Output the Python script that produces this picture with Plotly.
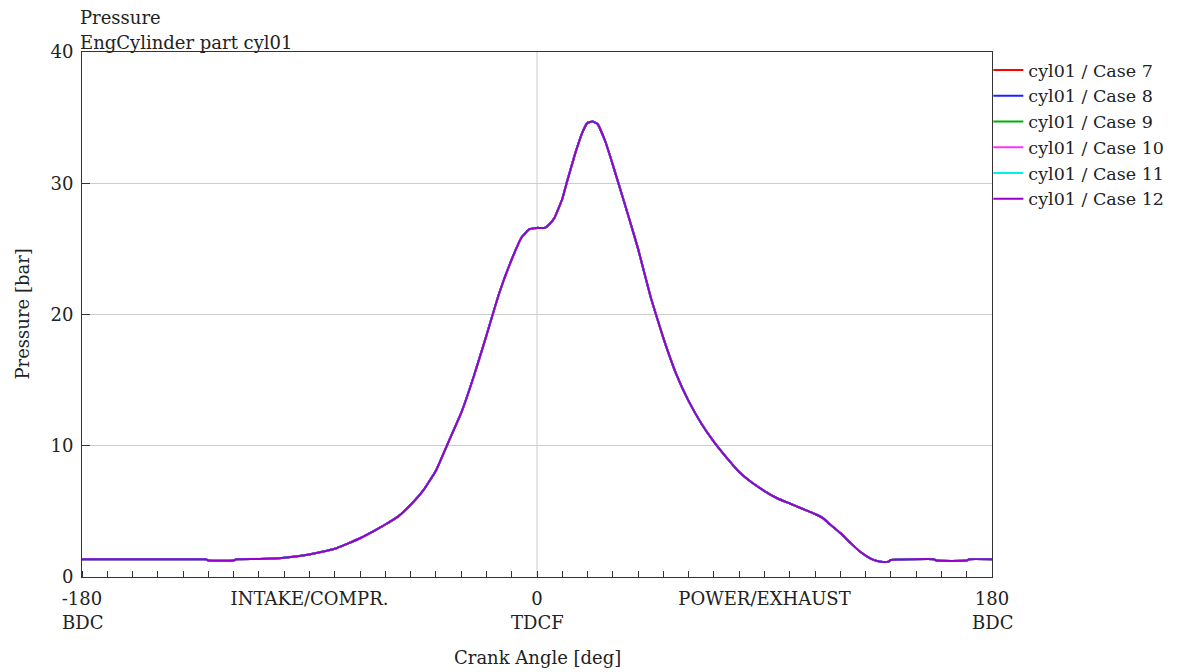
import plotly.graph_objects as go

crank_angle_deg = [-180, -160, -140, -131, -130, -120, -119, -110, -100, -90, -80, -70, -65, -60,
                   -55, -50, -45, -40, -35, -30, -25, -20, -15, -10, -6, -3, 0, 3, 5, 7, 10, 12,
                   15, 18, 20, 22, 24, 27, 30, 33, 36, 40, 45, 50, 55, 60, 65, 70, 75, 80, 85,
                   90, 95, 100, 105, 110, 113, 116, 120, 124, 128, 132, 135, 137, 139, 140, 148,
                   157, 158, 170, 171, 180]
pressure_bar = [1.35, 1.35, 1.35, 1.35, 1.25, 1.25, 1.35, 1.37, 1.47, 1.72, 2.15, 2.95, 3.45,
                4.0, 4.6, 5.5, 6.6, 8.1, 10.3, 12.5, 15.3, 18.4, 21.6, 24.2, 25.9, 26.5, 26.6,
                26.6, 26.9, 27.4, 28.8, 30.2, 32.2, 33.9, 34.6, 34.7, 34.5, 33.2, 31.4, 29.5,
                27.6, 25.0, 21.3, 18.2, 15.5, 13.4, 11.7, 10.3, 9.1, 8.0, 7.2, 6.55, 6.0, 5.6,
                5.2, 4.8, 4.5, 4.0, 3.35, 2.6, 1.9, 1.4, 1.2, 1.15, 1.17, 1.3, 1.35, 1.35, 1.25,
                1.25, 1.35, 1.35]

case_names = ["cyl01 / Case 7", "cyl01 / Case 8", "cyl01 / Case 9",
              "cyl01 / Case 10", "cyl01 / Case 11", "cyl01 / Case 12"]
case_colors = ["#ff0000", "#2020ff", "#00b000", "#ff30ff", "#00f0f0", "#9900cc"]

x_tickvals = [-180, -90, 0, 90, 180]
x_ticktext = ["-180", "INTAKE/COMPR.", "0", "POWER/EXHAUST", "180"]
x_sublabels = [(-180, "BDC"), (0, "TDCF"), (180, "BDC")]
y_tickvals = [0, 10, 20, 30, 40]

FONT = "DejaVu Serif"
FS = 18
TXT = "#222222"

fig = go.Figure()
for name, color in zip(case_names, case_colors):
    fig.add_trace(go.Scatter(x=crank_angle_deg, y=pressure_bar, mode="lines", name=name,
                             line=dict(color=color, width=2, shape="spline", smoothing=0.35)))

fig.add_shape(type="line", xref="x", yref="y", x0=0, x1=0, y0=0, y1=40,
              line=dict(color="#cccccc", width=1), layer="below")

fig.update_layout(
    width=1179, height=672,
    margin=dict(l=82, r=187, t=52, b=95, autoexpand=False),
    paper_bgcolor="white", plot_bgcolor="white",
    font=dict(family=FONT, size=FS, color=TXT),
    showlegend=True,
    legend=dict(x=0.996, xanchor="left", y=1.0, yanchor="top", xref="paper",
                bgcolor="rgba(0,0,0,0)", borderwidth=0, itemwidth=30,
                font=dict(family=FONT, size=17.5, color=TXT), tracegroupgap=0),
    xaxis=dict(range=[-180, 180], tickmode="array", tickvals=x_tickvals, ticktext=x_ticktext,
               showgrid=False, zeroline=False, showline=True, linecolor="#333333", linewidth=1,
               mirror=True, ticks="", ticklabelstandoff=5,
               minor=dict(ticks="inside", dtick=10, tick0=0, ticklen=6, tickcolor="#333333",
                          showgrid=False),
               tickfont=dict(family=FONT, size=FS, color=TXT)),
    yaxis=dict(range=[0, 40], tickmode="array", tickvals=y_tickvals,
               showgrid=True, gridcolor="#cccccc", gridwidth=1, zeroline=False,
               showline=True, linecolor="#333333", linewidth=1, mirror=True,
               ticks="inside", ticklen=8, tickcolor="#333333", ticklabelstandoff=4,
               tickfont=dict(family=FONT, size=FS, color=TXT)),
)

for xv, txt in x_sublabels:
    fig.add_annotation(x=xv, y=0, xref="x", yref="y", text=txt, showarrow=False,
                       yanchor="middle", yshift=-45, font=dict(family=FONT, size=FS, color=TXT))

fig.add_annotation(x=0, y=0, xref="x", yref="paper", text="Crank Angle [deg]", showarrow=False,
                   yanchor="middle", yshift=-80, font=dict(family=FONT, size=FS, color=TXT))
fig.add_annotation(x=0, y=0.5, xref="paper", yref="paper", text="Pressure [bar]", showarrow=False,
                   textangle=-90, xanchor="center", xshift=-60,
                   font=dict(family=FONT, size=FS, color=TXT))
fig.add_annotation(x=0, y=1, xref="paper", yref="paper", text="Pressure", showarrow=False,
                   xanchor="left", yanchor="middle", xshift=-4, yshift=35,
                   font=dict(family=FONT, size=FS, color=TXT))
fig.add_annotation(x=0, y=1, xref="paper", yref="paper", text="EngCylinder part cyl01",
                   showarrow=False, xanchor="left", yanchor="middle", xshift=-4, yshift=10,
                   font=dict(family=FONT, size=FS, color=TXT))

fig.write_html("out.html")
